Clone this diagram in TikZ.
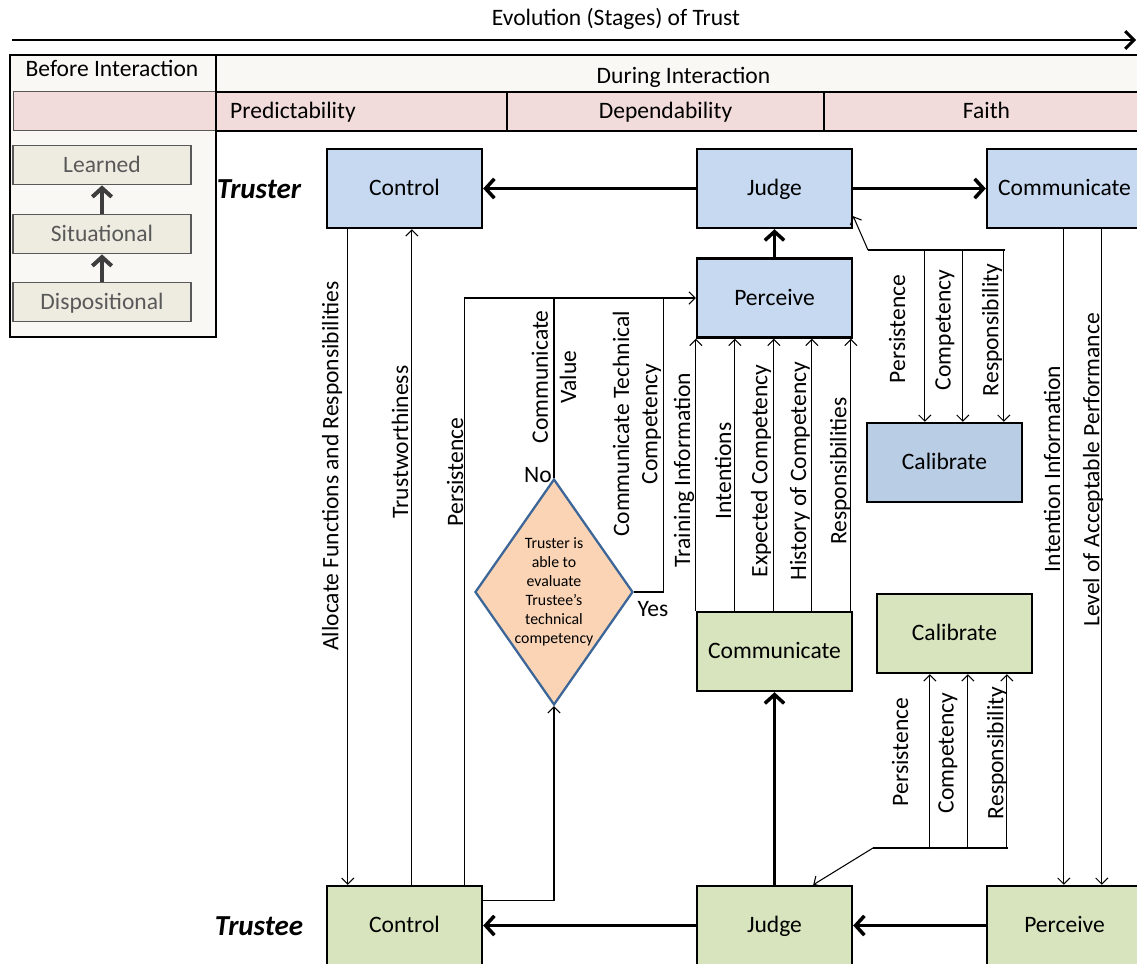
\documentclass[tikz,border=0pt]{standalone}
\usepackage{fontspec}
\setmainfont{Carlito}
\usetikzlibrary{arrows.meta,shapes.geometric,calc}
\definecolor{figTruster}{HTML}{C6D9F1}
\definecolor{figCalib}{HTML}{B9CDE5}
\definecolor{figTrustee}{HTML}{D7E4BD}
\definecolor{figDecide}{HTML}{FAD4B5}
\definecolor{figDecideLine}{HTML}{3D6698}
\definecolor{figStage}{HTML}{F2DCDB}
\definecolor{figPhase}{HTML}{F9F8F4}
\definecolor{figBase}{HTML}{EEECE1}
\definecolor{figGrey}{HTML}{595959}
\newcommand{\figfont}{\fontsize{13.4}{16}\selectfont}
\newcommand{\figsmall}{\fontsize{9}{10.8}\selectfont}
\tikzset{
  box/.style={draw=black,line width=1.4pt,minimum width=3.1cm,minimum height=1.58cm,inner sep=0pt,
    text height=10pt,text depth=2pt,font=\figfont},
  trbox/.style={box,fill=figTruster},
  tebox/.style={box,fill=figTrustee},
  cell/.style={draw=black,line width=1.2pt,anchor=north west,inner sep=0pt,text height=10pt,text depth=2pt,font=\figfont},
  stagebox/.style={draw=figGrey,line width=1pt,fill=figBase,text=figGrey,minimum width=3.56cm,minimum height=0.78cm,
    inner sep=0pt,text height=10pt,text depth=2pt,font=\figfont},
  stageflow/.style={line width=2.3pt,draw=figGrey!70!black,-{Straight Barb[length=5pt,width=11pt]}},
  flow/.style={line width=0.6pt,-{Straight Barb[length=3.5pt,width=7pt]}},
  link/.style={line width=0.6pt},
  thickflow/.style={line width=2pt,-{Straight Barb[length=5pt,width=11pt]}},
  vlbl/.style={rotate=90,font=\figfont,inner sep=0pt,align=center},
}

\begin{document}
\begin{tikzpicture}[x=0.02cm,y=-0.02cm]
  \useasboundingbox (0,0) rectangle (1137,964);
  % time line
  \node[font=\figfont] (evo) at (616,19) {Evolution (Stages) of Trust};
  \coordinate (evoL) at (12,40);
  \coordinate (evoR) at (1136,40);
  \draw[line width=1.7pt,-{Straight Barb[length=5pt,width=10pt]}] (evoL) -- (evoR);

  % phases and stages
  \node[cell,fill=figPhase,minimum width=4.12cm,minimum height=5.64cm] (before) at (9,54) {};
  \node[font=\figfont] (beforeT) at (112,68) {Before Interaction};
  \node[cell,fill=figPhase,minimum width=18.7cm,minimum height=0.74cm,text height=12pt,text depth=0.5pt] (during) at (215,54) {During Interaction};
  \node[cell,draw=figGrey,line width=0.8pt,fill=figStage,minimum width=4.04cm,minimum height=0.78cm] (blank) at (13,91) {};
  \node[cell,fill=figStage,minimum width=5.82cm,minimum height=0.78cm] (pred) at (215,91) {};
  \node[font=\figfont,anchor=west,text height=10pt,text depth=2pt] (predT) at ($(pred.west)+(9,0)$) {Predictability};
  \node[cell,fill=figStage,minimum width=6.34cm,minimum height=0.78cm] (dep) at (506,91) {Dependability};
  \node[cell,fill=figStage,minimum width=6.5cm,minimum height=0.78cm] (faith) at (823,91) {Faith};

  \node[stagebox] (learned) at (102,165) {Learned};
  \node[stagebox] (situational) at (102,234) {Situational};
  \node[stagebox] (dispositional) at (102,302) {Dispositional};
  \draw[stageflow] (dispositional) -- (situational);
  \draw[stageflow] (situational) -- (learned);

  % actors
  \node[font=\fontsize{16.5}{18}\selectfont\bfseries\itshape] (truster) at (259,189) {Truster};
  \node[font=\fontsize{16.5}{18}\selectfont\bfseries\itshape] (trustee) at (259,926) {Trustee};

  \node[trbox] (trCtrl) at (404.5,188.5) {Control};
  \node[trbox] (trJudge) at (774.5,188.5) {Judge};
  \node[trbox] (trComm) at (1064.5,188.5) {Communicate};
  \node[trbox] (trPerc) at (774.5,298) {Perceive};
  \node[box,fill=figCalib] (trCal) at (944.5,462.5) {Calibrate};

  \node[tebox] (teComm) at (774.5,651.5) {Communicate};
  \node[tebox] (teCal) at (954.5,633.5) {Calibrate};
  \node[tebox] (teCtrl) at (404.5,925.5) {Control};
  \node[tebox] (teJudge) at (774.5,925.5) {Judge};
  \node[tebox] (tePerc) at (1064.5,925.5) {Perceive};

  \node[shape=diamond,draw=figDecideLine,line width=1.3pt,fill=figDecide,shape aspect=0.7,inner sep=0pt,
        minimum width=3.16cm,minimum height=4.52cm,align=center,font=\figsmall] (decide) at (554,592)
        {Truster is\\able to\\evaluate\\Trustee’s\\technical\\competency};

  % main cycle
  \draw[thickflow] (trJudge) -- (trCtrl);
  \draw[thickflow] (trJudge) -- (trComm);
  \draw[thickflow] (trPerc) -- (trJudge);
  \draw[thickflow] (teJudge) -- (teComm);
  \draw[thickflow] (teJudge) -- (teCtrl);
  \draw[thickflow] (tePerc) -- (teJudge);

  % control links
  \draw[flow] ($(trCtrl.south west)+(22,0)$) -- ($(teCtrl.north west)+(22,0)$);
  \draw[flow] ($(teCtrl.north west)+(86,0)$) -- ($(trCtrl.south west)+(86,0)$);
  \draw[flow] ($(teCtrl.north west)+(139,0)$) |- (trPerc.west);
  \draw[flow] ($(teCtrl.north east)+(0,16)$) -| (decide.south);
  \draw[link] (decide.north) -- (decide.north |- trPerc.west);
  \draw[link] (decide.east) -| ($(trPerc.west)+(-32,0)$);
  \node[vlbl] (allocT) at (332,466) {Allocate Functions and Responsibilities};
  \node[vlbl] (trustT) at (400,442) {Trustworthiness};
  \node[vlbl] (persT) at (455,472) {Persistence};
  \node[vlbl] (valueT) at (554,377) {Communicate\\Value};
  \node[vlbl] (techT) at (637,424) {Communicate Technical\\Competency};
  \node[font=\figfont] (noT) at (538,475) {No};
  \node[font=\figfont] (yesT) at (653,609) {Yes};

  % trustee communicates to truster
  \foreach \dx in {0,39,78,116,155}
    \draw[flow] ($(teComm.north west)+(\dx,0)$) -- ($(trPerc.south west)+(\dx,0)$);
  \node[vlbl] (trainT) at (684,470) {Training Information};
  \node[vlbl] (intT) at (723,471) {Intentions};
  \node[vlbl] (expT) at (761,471) {Expected Competency};
  \node[vlbl] (histT) at (800,471) {History of Competency};
  \node[vlbl] (respT) at (840,471) {Responsibilities};

  % truster calibration
  \coordinate (jSplit) at (868,250);
  \coordinate (jEnd) at (1005,250);
  \draw[flow] (jSplit) -- ($(trJudge.south east)+(0,-13)$);
  \draw[link] (jSplit) -- (jEnd);
  \foreach \dx in {59,97,138}
    \draw[flow] ($(trCal.north west)+(\dx,-173)$) -- ($(trCal.north west)+(\dx,0)$);
  \node[vlbl] (tcPersT) at (897,329) {Persistence};
  \node[vlbl] (tcCompT) at (945,330) {Competency};
  \node[vlbl] (tcRespT) at (992,330) {Responsibility};

  % trustee calibration
  \coordinate (cSplit) at (873,848);
  \coordinate (cEnd) at (1008,848);
  \draw[flow] (cSplit) -- ($(teJudge.north east)+(-40,0)$);
  \draw[link] (cSplit) -- (cEnd);
  \foreach \dx in {54,92,131}
    \draw[flow] ($(teCal.south west)+(\dx,175)$) -- ($(teCal.south west)+(\dx,0)$);
  \node[vlbl] (ecPersT) at (900,752) {Persistence};
  \node[vlbl] (ecCompT) at (948,753) {Competency};
  \node[vlbl] (ecRespT) at (997,753) {Responsibility};

  % truster communicates to trustee
  \draw[flow] ($(trComm.south west)+(78,0)$) -- ($(tePerc.north west)+(78,0)$);
  \draw[flow] ($(trComm.south west)+(116,0)$) -- ($(tePerc.north west)+(116,0)$);
  \node[vlbl] (infoT) at (1052,469) {Intention Information};
  \node[vlbl] (levelT) at (1093,470) {Level of Acceptable Performance};
\end{tikzpicture}
\end{document}
